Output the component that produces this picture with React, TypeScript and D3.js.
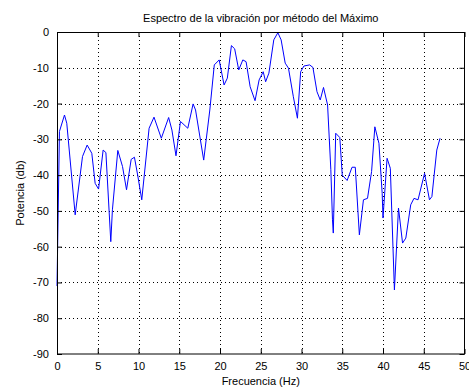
import { useEffect, useRef } from 'react';
import * as d3 from 'd3';

// frequency (Hz) and power (db)
const freq = [
  0, 0.3, 0.92, 1.2, 2.23, 3.13, 3.7, 4.27, 4.68, 5.1, 5.66, 6.0, 6.6, 6.8, 7.46,
  8.04, 8.53, 9.1, 9.5, 9.9, 10.4, 11.3, 11.9, 12.8, 13.7, 14.1, 14.6, 15.15, 16.05,
  16.7, 17.0, 18.0, 18.75, 19.3, 19.9, 20.5, 20.9, 21.4, 21.8, 22.3, 22.8, 23.2, 23.7,
  24.3, 24.8, 25.3, 25.6, 26.0, 26.6, 27.1, 27.5, 28.0, 28.4, 29.0, 29.5, 29.9, 30.3,
  31.0, 31.4, 31.9, 32.3, 32.7, 33.2, 33.6, 33.8, 33.9, 34.2, 34.7, 35.0, 35.6, 36.2,
  36.6, 37.1, 37.6, 38.1, 38.6, 39.0, 39.5, 39.9, 40.0, 40.5, 40.9, 41.4, 41.9, 42.4,
  42.8, 43.4, 43.8, 44.3, 45.1, 45.7, 46.0, 46.6, 47.0,
];
const power = [
  -71, -27.8, -23.2, -25.5, -51.1, -34.8, -31.6, -33.9, -42.3, -43.9, -33, -33.7, -58.6, -49.7, -33.1,
  -37.6, -44.1, -35.6, -35, -40, -46.9, -26.9, -23.8, -29.7, -23.9, -27.4, -34.6, -25, -26.9,
  -20.1, -21.8, -35.8, -21.8, -9.2, -7.8, -14.8, -12.9, -3.8, -4.7, -10.6, -7.8, -8.3, -15.3,
  -19.2, -13.4, -11.1, -13.9, -11.5, -2.2, -0.2, -2.2, -8.7, -10.1, -18.1, -24.1, -11.1, -9.5,
  -9.2, -9.9, -16.7, -19, -15.5, -20.4, -38.5, -52.5, -56.2, -28.3, -29.5, -40, -41.5, -37.8,
  -37.8, -56.7, -46.9, -46.5, -39, -26.5, -31.1, -45.1, -52, -35.3, -38.1, -72.1, -49.2, -59,
  -57.6, -48.3, -46.5, -46.9, -39.5, -46.9, -46, -33, -29.7,
];
const xTicks = [0, 5, 10, 15, 20, 25, 30, 35, 40, 45, 50];
const yTicks = [0, -10, -20, -30, -40, -50, -60, -70, -80, -90];

export default function App() {
  const svgRef = useRef<SVGSVGElement>(null);
  const width = 469;
  const height = 389;
  const margin = { top: 32, right: 4.5, bottom: 35, left: 57 };
  const innerWidth = width - margin.left - margin.right;
  const innerHeight = height - margin.top - margin.bottom;

  useEffect(() => {
    if (!svgRef.current) return;
    const svg = d3.select(svgRef.current);
    svg.selectAll('*').remove();

    const x = d3.scaleLinear().domain([0, 50]).range([0, innerWidth]);
    const y = d3.scaleLinear().domain([-90, 0]).range([innerHeight, 0]);

    const g = svg.append('g').attr('transform', `translate(${margin.left},${margin.top})`);

    g.append('rect')
      .attr('width', innerWidth)
      .attr('height', innerHeight)
      .attr('fill', '#fff');

    // Grid (dotted)
    const grid = g.append('g').attr('stroke', '#000').attr('stroke-width', 1).attr('stroke-dasharray', '1,3');
    grid.selectAll('.gx')
      .data(xTicks.slice(1, -1))
      .join('line')
      .attr('x1', d => Math.round(x(d)) + 0.5)
      .attr('x2', d => Math.round(x(d)) + 0.5)
      .attr('y1', 0)
      .attr('y2', innerHeight);
    grid.selectAll('.gy')
      .data(yTicks.slice(1, -1))
      .join('line')
      .attr('y1', d => Math.round(y(d)) + 0.5)
      .attr('y2', d => Math.round(y(d)) + 0.5)
      .attr('x1', 0)
      .attr('x2', innerWidth);

    // Data line
    const pts = freq.map((f, i) => [f, power[i]] as [number, number]);
    g.append('path')
      .datum(pts)
      .attr('fill', 'none')
      .attr('stroke', '#0000ff')
      .attr('stroke-width', 1)
      .attr('d', d3.line<[number, number]>().x(d => x(d[0])).y(d => y(d[1])));

    // Axes, MATLAB style: ticks inward on all four sides
    const fontFam = '"Liberation Sans", Arial, sans-serif';
    const styleAxis = (sel: d3.Selection<SVGGElement, unknown, null, undefined>) => {
      sel.select('.domain').remove();
      sel.selectAll('line').attr('stroke', '#000');
      sel.selectAll('text').style('font-size', '11px').style('font-family', fontFam).attr('fill', '#000');
    };
    const plain = (d: d3.NumberValue) => String(d);

    g.append('g')
      .attr('transform', `translate(0,${innerHeight})`)
      .call(d3.axisBottom(x).tickValues(xTicks).tickSizeInner(-5).tickSizeOuter(0).tickPadding(8).tickFormat(plain))
      .call(styleAxis);
    g.append('g')
      .call(d3.axisTop(x).tickValues(xTicks).tickSizeInner(-5).tickSizeOuter(0).tickFormat(() => ''))
      .call(styleAxis);
    g.append('g')
      .call(d3.axisLeft(y).tickValues(yTicks).tickSizeInner(-5).tickSizeOuter(0).tickPadding(8).tickFormat(plain))
      .call(styleAxis);
    g.append('g')
      .attr('transform', `translate(${innerWidth},0)`)
      .call(d3.axisRight(y).tickValues(yTicks).tickSizeInner(-5).tickSizeOuter(0).tickFormat(() => ''))
      .call(styleAxis);

    // Box
    g.append('rect')
      .attr('x', 0.5)
      .attr('y', 0.5)
      .attr('width', innerWidth - 0.5)
      .attr('height', innerHeight - 0.5)
      .attr('fill', 'none')
      .attr('stroke', '#000')
      .attr('stroke-width', 1);

    // Title and labels
    svg.append('text')
      .attr('x', margin.left + innerWidth / 2)
      .attr('y', 22)
      .attr('text-anchor', 'middle')
      .style('font-size', '11px')
      .style('font-family', fontFam)
      .text('Espectro de la vibración por método del Máximo');

    svg.append('text')
      .attr('x', margin.left + innerWidth / 2)
      .attr('y', 385)
      .attr('text-anchor', 'middle')
      .style('font-size', '11px')
      .style('font-family', fontFam)
      .text('Frecuencia (Hz)');

    svg.append('text')
      .attr('transform', 'rotate(-90)')
      .attr('x', -(margin.top + innerHeight / 2))
      .attr('y', 24)
      .attr('text-anchor', 'middle')
      .style('font-size', '11px')
      .style('font-family', fontFam)
      .text('Potencia (db)');
  }, [innerWidth, innerHeight, margin.left, margin.top]);

  return (
    <svg
      ref={svgRef}
      width={width}
      height={height}
      style={{ position: 'absolute', left: 0, top: 0, background: '#fff' }}
    />
  );
}
